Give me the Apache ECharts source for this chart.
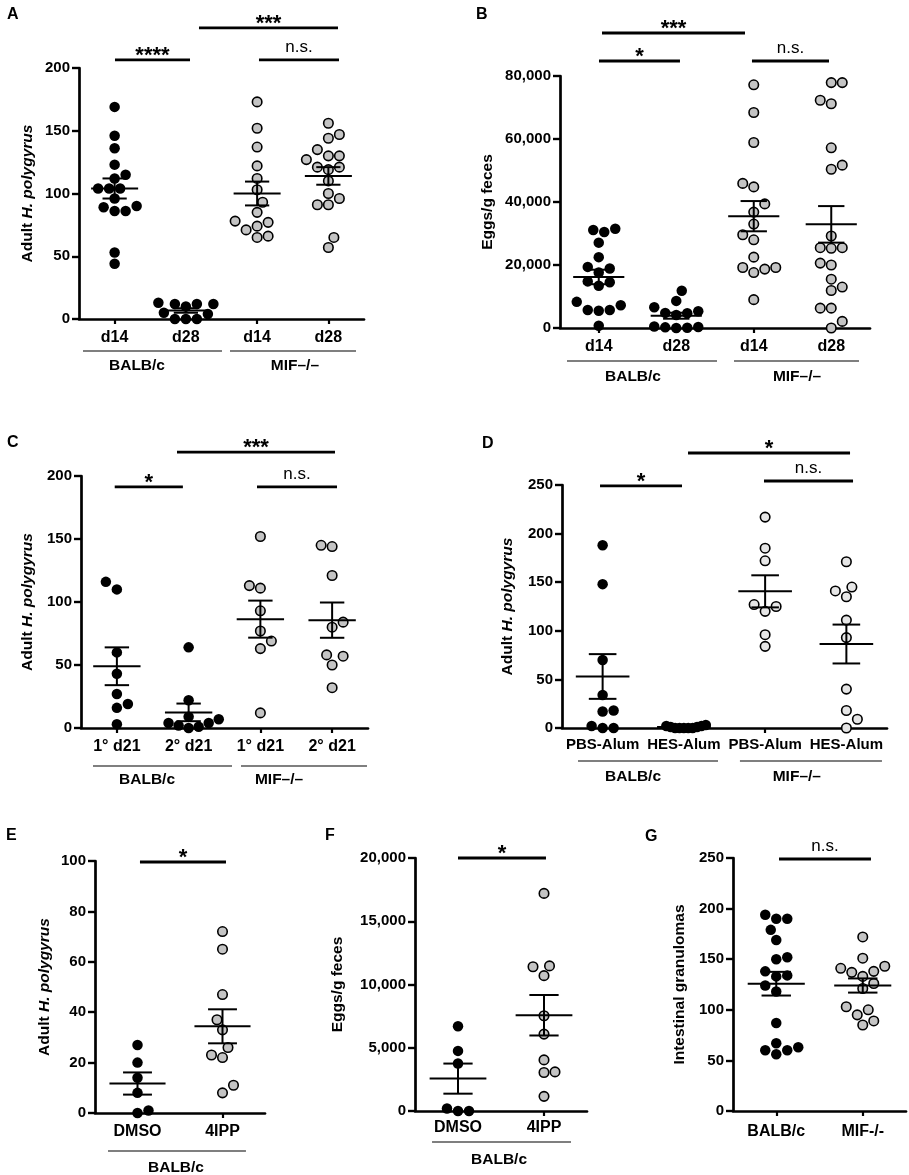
<!DOCTYPE html>
<html><head><meta charset="utf-8">
<script src="https://cdn.jsdelivr.net/npm/echarts@6/dist/echarts.min.js"></script>
<style>html,body{margin:0;padding:0;background:#fff}#c{width:909px;height:1175px}</style>
</head><body><div id="c"></div>
<script>
// ================= DATA =================
const catsA = ['d14', 'd28', 'd14', 'd28'];
const catsB = ['d14', 'd28', 'd14', 'd28'];
const catsC = ['1° d21', '2° d21', '1° d21', '2° d21'];
const catsD = ['PBS-Alum', 'HES-Alum', 'PBS-Alum', 'HES-Alum'];
const catsE = ['DMSO', '4IPP'];
const catsF = ['DMSO', '4IPP'];
const catsG = ['BALB/c', 'MIF-/-'];

const groupLabels4 = ['BALB/c', 'MIF–/–'];
const groupLabels2 = ['BALB/c'];

const ticksA = [0, 50, 100, 150, 200];
const ticksB = [0, 20000, 40000, 60000, 80000];
const ticksC = [0, 50, 100, 150, 200];
const ticksD = [0, 50, 100, 150, 200, 250];
const ticksE = [0, 20, 40, 60, 80, 100];
const ticksF = [0, 5000, 10000, 15000, 20000];
const ticksG = [0, 50, 100, 150, 200, 250];

// Panel A: Adult H. polygyrus
const aBalbD14 = [169, 146, 136, 123, 115, 112, 104, 104, 104, 96, 90, 89, 86, 86, 53, 44];
const aBalbD28 = [13, 12, 12, 12, 10, 5, 4, 0, 0, 0];
const aMifD14  = [173, 152, 137, 122, 112, 103, 93, 85, 78, 77, 74, 71, 66, 65];
const aMifD28  = [156, 147, 144, 135, 130, 130, 127, 121, 121, 119, 110, 100, 96, 91, 91, 65, 57];
const aMean = [104, 6.8, 100, 114];
const aSem  = [8, 1.8, 9.5, 7];
const aSig  = ['****', '***', 'n.s.'];

// Panel B: Eggs/g feces
const bBalbD14 = [31500, 31100, 30500, 27100, 22500, 19400, 18900, 17600, 14800, 14500, 13400, 8300, 7200, 5700, 5700, 5500, 700];
const bBalbD28 = [11800, 8600, 6600, 5300, 4800, 4700, 4100, 500, 300, 200, 100, 0];
const bMifD14  = [77200, 68400, 58900, 45900, 44800, 39400, 36800, 33000, 29600, 28000, 22500, 19200, 19200, 18700, 17600, 9000];
const bMifD28  = [77900, 77900, 72300, 71200, 57200, 51700, 50400, 29200, 25500, 25500, 25300, 20600, 20000, 15500, 13000, 11900, 6300, 6300, 2100, 0];
const bMean = [16200, 3900, 35500, 32900];
const bSem  = [2300, 950, 4800, 5800];
const bSig  = ['*', '***', 'n.s.'];

// Panel C
const cBalb1 = [116, 110, 60, 43, 27, 19, 16, 3];
const cBalb2 = [64, 22, 9, 7, 4, 4, 2, 1, 0];
const cMif1  = [152, 113, 111, 93, 77, 69, 63, 12];
const cMif2  = [145, 144, 121, 84, 80, 58, 57, 50, 32];
const cMean = [49, 12.4, 86.4, 85.6];
const cSem  = [15, 7, 14.7, 14];
const cSig  = ['*', '***', 'n.s.'];

// Panel D
const dBalbPbs = [188, 148, 70, 34, 18, 17, 2, 0, 0];
const dBalbHes = [0, 0, 0, 1, 2, 3, 2, 1, 0, 0];
const dMifPbs  = [217, 185, 172, 127, 125, 120, 96, 84];
const dMifHes  = [171, 145, 141, 135, 111, 93, 40, 18, 9, 0];
const dMean = [53, 1, 140.6, 86.4];
const dSem  = [23, 0.4, 16.5, 20];
const dSig  = ['*', '*', 'n.s.'];

// Panel E
const eDmso = [27, 20, 14, 8, 1, 0];
const e4ipp = [72, 65, 47, 37, 33, 26, 23, 22, 11, 8];
const eMean = [11.7, 34.4];
const eSem  = [4.4, 6.75];
const eSig  = ['*'];

// Panel F
const fDmso = [6700, 4750, 3750, 200, 0, 0];
const f4ipp = [17200, 11470, 11400, 10700, 7530, 6080, 4040, 3090, 3040, 1160];
const fMean = [2560, 7570];
const fSem  = [1190, 1600];
const fSig  = ['*'];

// Panel G
const gBalb = [194, 190, 190, 179, 169, 152, 150, 138, 134, 133, 124, 118, 87, 67, 63, 60, 60, 56];
const gMif  = [172, 151, 143, 141, 138, 137, 133, 126, 121, 103, 100, 95, 89, 85];
const gMean = [125.8, 124];
const gSem  = [11.7, 7];
const gSig  = ['n.s.'];

// ================= STYLE / LAYOUT =================
const FONT = '"Liberation Sans", Arial, Helvetica, sans-serif';
const BLACK = '#000000';
const GREY = '#c4c4c4';
const LIGHT = '#e6e6e6';
const worms = '{n|Adult }{i|H. polygyrus}';

const panels = [
  { key: 'A', cats: catsA, groups: [aBalbD14, aBalbD28, aMifD14, aMifD28], mean: aMean, sem: aSem, ticks: ticksA,
    yName: worms, fills: [BLACK, BLACK, GREY, GREY], grid: { left: 79, top: 68, width: 285, height: 251 },
    nameGap: 43, labelMargin: 11, catFont: 16, letter: [7, 7], sig: aSig, spread: 0.42,
    sigPos: [[1.005, 2.058, 206.4], [2.184, 4.135, 231.9], [3.026, 4.149, 206.4]],
    brLabels: groupLabels4, brackets: [[0.556, 2.507, 1.314], [2.619, 4.388, 3.53]], brDy: 32, brLabelDy: 15 },
  { key: 'B', cats: catsB, groups: [bBalbD14, bBalbD28, bMifD14, bMifD28], mean: bMean, sem: bSem, ticks: ticksB,
    yName: 'Eggs/g feces', fills: [BLACK, BLACK, GREY, GREY], grid: { left: 560, top: 76, width: 310, height: 252 },
    nameGap: 64, labelMargin: 11, catFont: 16, letter: [476, 7], sig: bSig, spread: 0.42,
    sigPos: [[1.003, 2.048, 84760], [1.042, 2.887, 93650], [2.977, 3.971, 84760]],
    brLabels: groupLabels4, brackets: [[0.59, 2.526, 1.442], [2.745, 4.358, 3.558]], brDy: 33, brLabelDy: 16 },
  { key: 'C', cats: catsC, groups: [cBalb1, cBalb2, cMif1, cMif2], mean: cMean, sem: cSem, ticks: ticksC,
    yName: worms, fills: [BLACK, BLACK, GREY, GREY], grid: { left: 81, top: 476, width: 287, height: 252 },
    nameGap: 45, labelMargin: 11, catFont: 16, letter: [7, 435], sig: cSig, spread: 0.42,
    sigPos: [[0.97, 1.92, 191.3], [1.838, 4.04, 219.0], [2.953, 4.068, 191.3]],
    brLabels: groupLabels4, brackets: [[0.667, 2.605, 1.42], [2.73, 4.486, 3.26]], brDy: 38, brLabelDy: 14 },
  { key: 'D', cats: catsD, groups: [dBalbPbs, dBalbHes, dMifPbs, dMifHes], mean: dMean, sem: dSem, ticks: ticksD,
    yName: worms, fills: [BLACK, BLACK, LIGHT, LIGHT], grid: { left: 562, top: 485, width: 325, height: 243 },
    nameGap: 46, labelMargin: 9, catFont: 15, letter: [482, 436], sig: dSig, spread: 0.27,
    sigPos: [[0.968, 1.977, 249.0], [2.051, 4.045, 282.9], [2.986, 4.082, 254.1]],
    brLabels: groupLabels4, brackets: [[0.697, 2.42, 1.374], [2.69, 4.438, 3.39]], brDy: 33, brLabelDy: 16 },
  { key: 'E', cats: catsE, groups: [eDmso, e4ipp], mean: eMean, sem: eSem, ticks: ticksE,
    yName: worms, fills: [BLACK, GREY], grid: { left: 95, top: 861, width: 170, height: 252 },
    nameGap: 42, labelMargin: 11, catFont: 16, letter: [6, 828], sig: eSig, spread: 0.42,
    sigPos: [[1.029, 2.041, 99.6]],
    brLabels: groupLabels2, brackets: [[0.653, 2.276, 1.453]], brDy: 38, brLabelDy: 17 },
  { key: 'F', cats: catsF, groups: [fDmso, f4ipp], mean: fMean, sem: fSem, ticks: ticksF,
    yName: 'Eggs/g feces', fills: [BLACK, GREY], grid: { left: 415, top: 858, width: 172, height: 253 },
    nameGap: 69, labelMargin: 9, catFont: 16, letter: [325, 828], sig: fSig, spread: 0.42,
    sigPos: [[1.0, 2.023, 20000]],
    brLabels: groupLabels2, brackets: [[0.698, 2.314, 1.477]], brDy: 31, brLabelDy: 18 },
  { key: 'G', cats: catsG, groups: [gBalb, gMif], mean: gMean, sem: gSem, ticks: ticksG,
    yName: 'Intestinal granulomas', fills: [BLACK, GREY], grid: { left: 733, top: 858, width: 173, height: 253 },
    nameGap: 45, labelMargin: 13, catFont: 16, letter: [645, 829], sig: gSig, spread: 0.42,
    sigPos: [[1.032, 2.095, 249]],
    brLabels: [], brackets: [], brDy: 0, brLabelDy: 0 }
];

function fmtThousands(v) { return String(v).replace(/\B(?=(\d{3})+(?!\d))/g, ','); }

// beeswarm layout (pixel space), returns offsets in category units
function swarm(vals, pxY, pxUnit, d, maxHalfUnits) {
  const order = vals.map((v, i) => i).sort((a, b) => vals[a] - vals[b] || a - b);
  const placed = [];
  const off = new Array(vals.length).fill(0);
  const step = d / 2;
  let flip = 1;
  order.forEach(i => {
    const y = vals[i] * pxY;
    for (let k = 0; k < 400; k++) {
      const m = Math.ceil(k / 2);
      const s = k === 0 ? 0 : (k % 2 === 1 ? flip : -flip);
      const x = s * m * step;
      let ok = true;
      for (const p of placed) {
        const dx = p.x - x, dy = p.y - y;
        if (dx * dx + dy * dy < d * d - 0.01) { ok = false; break; }
      }
      if (ok) { placed.push({ x, y }); off[i] = x; if (x !== 0) flip = -flip; break; }
    }
  });
  let mx = 0; off.forEach(o => { if (Math.abs(o) > mx) mx = Math.abs(o); });
  const lim = maxHalfUnits * pxUnit;
  const sc = mx > lim ? lim / mx : 1;
  return off.map(o => o * sc / pxUnit);
}

const option = { animation: false, backgroundColor: '#ffffff', title: [], grid: [], xAxis: [], yAxis: [], series: [] };

panels.forEach((p, gi) => {
  const n = p.cats.length;
  const yMin = p.ticks[0], yMax = p.ticks[p.ticks.length - 1], yInt = p.ticks[1] - p.ticks[0];
  const xv = 2 * gi + 1;

  option.title.push({ text: p.key, left: p.letter[0], top: p.letter[1], padding: 0,
    textStyle: { fontFamily: FONT, fontWeight: 'bold', fontSize: 16, color: '#000' } });
  option.grid.push(Object.assign({ containLabel: false }, p.grid));

  option.xAxis.push({ type: 'category', gridIndex: gi, data: p.cats, boundaryGap: true,
    axisLine: { show: true, onZero: false, lineStyle: { color: '#000', width: 2.7 } },
    axisTick: { show: true, alignWithLabel: true, interval: 0, length: 5, lineStyle: { color: '#000', width: 2.2 } },
    axisLabel: { show: true, interval: 0, margin: p.labelMargin, color: '#000', fontFamily: FONT, fontWeight: 'bold', fontSize: p.catFont },
    splitLine: { show: false } });
  option.xAxis.push({ type: 'value', gridIndex: gi, min: 0.5, max: n + 0.5, show: false });

  const nameStyle = { fontFamily: FONT, fontWeight: 'bold', fontSize: 15.5, color: '#000',
    rich: { n: { fontFamily: FONT, fontWeight: 'bold', fontSize: 15.5, color: '#000' },
            i: { fontFamily: FONT, fontWeight: 'bold', fontStyle: 'italic', fontSize: 15.5, color: '#000' } } };
  option.yAxis.push({ type: 'value', gridIndex: gi, min: yMin, max: yMax, interval: yInt,
    name: p.yName, nameLocation: 'middle', nameGap: p.nameGap, nameRotate: 90, nameTextStyle: nameStyle,
    axisLine: { show: true, lineStyle: { color: '#000', width: 2.7 } },
    axisTick: { show: true, length: 7, lineStyle: { color: '#000', width: 2.4 } },
    axisLabel: { margin: 9, color: '#000', fontFamily: FONT, fontWeight: 'bold', fontSize: 15, formatter: v => fmtThousands(v) },
    splitLine: { show: false } });

  // points
  p.groups.forEach((vals, k) => {
    const offs = swarm(vals, p.grid.height / (yMax - yMin), p.grid.width / n, 11, p.spread);
    const filled = p.fills[k] === BLACK;
    option.series.push({ type: 'scatter', xAxisIndex: xv, yAxisIndex: gi, symbol: 'circle',
      symbolSize: filled ? 10.5 : 9.5, clip: false, silent: true, z: 2,
      data: vals.map((v, i) => [k + 1 + offs[i], v]),
      itemStyle: { color: p.fills[k], borderColor: '#000', borderWidth: filled ? 0 : 1.6, opacity: 1 } });
  });

  // mean ± SEM
  option.series.push({ type: 'custom', xAxisIndex: xv, yAxisIndex: gi, clip: false, silent: true, z: 5,
    data: p.mean.map((m, k) => [k + 1, m, p.sem[k]]), encode: { x: 0, y: 1 },
    renderItem: (params, api) => {
      const x = api.value(0), m = api.value(1), s = api.value(2);
      const pm = api.coord([x, m]), pu = api.coord([x, m + s]), pl = api.coord([x, m - s]);
      const xl = api.coord([x - 0.33, m])[0], xr = api.coord([x + 0.33, m])[0];
      const cl = api.coord([x - 0.17, m])[0], cr = api.coord([x + 0.17, m])[0];
      const st = { stroke: '#000', lineWidth: 2 };
      return { type: 'group', children: [
        { type: 'line', shape: { x1: xl, y1: pm[1], x2: xr, y2: pm[1] }, style: st },
        { type: 'line', shape: { x1: cl, y1: pu[1], x2: cr, y2: pu[1] }, style: st },
        { type: 'line', shape: { x1: cl, y1: pl[1], x2: cr, y2: pl[1] }, style: st },
        { type: 'line', shape: { x1: pm[0], y1: pu[1], x2: pm[0], y2: pl[1] }, style: st } ] };
    } });

  // significance bars
  option.series.push({ type: 'custom', xAxisIndex: xv, yAxisIndex: gi, clip: false, silent: true, z: 6,
    data: p.sigPos.map((s, i) => [s[0], s[2], s[1], i]), encode: { x: 0, y: 1 },
    renderItem: (params, api) => {
      const x1 = api.value(0), y = api.value(1), x2 = api.value(2), idx = api.value(3);
      const a = api.coord([x1, y]), b = api.coord([x2, y]);
      const lab = p.sig[idx];
      const star = lab.charAt(0) === '*';
      return { type: 'group', children: [
        { type: 'line', shape: { x1: a[0], y1: a[1], x2: b[0], y2: b[1] }, style: { stroke: '#000', lineWidth: 2.8 } },
        { type: 'text', style: { text: lab, x: (a[0] + b[0]) / 2, y: a[1] - (star ? 4 : 13), align: 'center', verticalAlign: 'middle',
          fill: '#000', fontFamily: FONT, fontWeight: star ? 'bold' : 'normal', fontSize: star ? 22 : 17 } } ] };
    } });

  // group brackets below the axis
  if (p.brackets.length) {
    option.series.push({ type: 'custom', xAxisIndex: xv, yAxisIndex: gi, clip: false, silent: true, z: 6,
      data: p.brackets.map((b, i) => [b[0], yMin, b[1], b[2], i]), encode: { x: 0, y: 1 },
      renderItem: (params, api) => {
        const x1 = api.value(0), x2 = api.value(2), lx = api.value(3), idx = api.value(4);
        const a = api.coord([x1, yMin]), b = api.coord([x2, yMin]), c = api.coord([lx, yMin]);
        const y = a[1] + p.brDy;
        return { type: 'group', children: [
          { type: 'line', shape: { x1: a[0], y1: y, x2: b[0], y2: y }, style: { stroke: '#000', lineWidth: 1.2 } },
          { type: 'text', style: { text: p.brLabels[idx], x: c[0], y: y + p.brLabelDy, align: 'center', verticalAlign: 'middle',
            fill: '#000', fontFamily: FONT, fontWeight: 'bold', fontSize: 15.5 } } ] };
      } });
  }
});

const chart = echarts.init(document.getElementById('c'), null, { renderer: 'canvas' });
chart.setOption(option);
</script>
</body></html>
